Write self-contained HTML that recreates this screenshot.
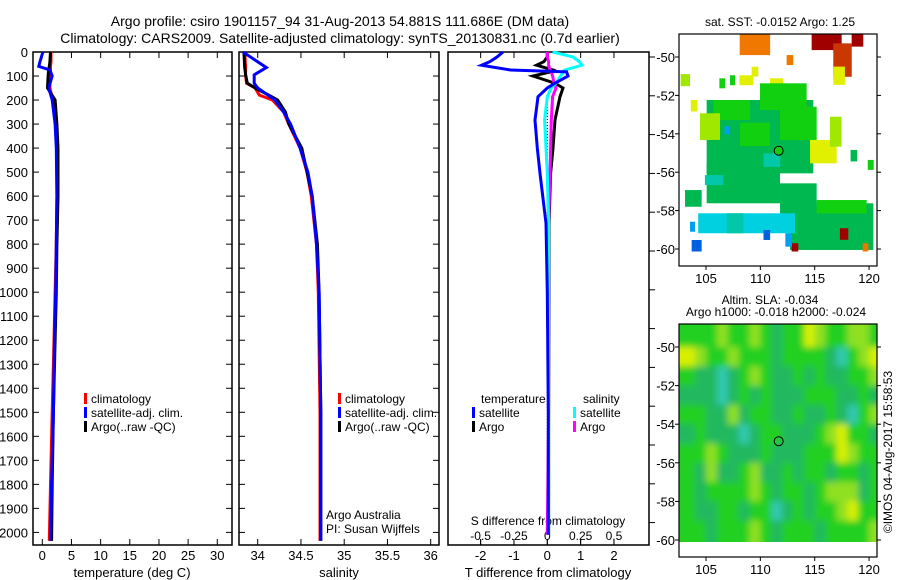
<!DOCTYPE html>
<html><head><meta charset="utf-8">
<style>
body{margin:0;background:#fff;}
svg{display:block;font-family:"Liberation Sans",sans-serif;}
text{font-size:13px;fill:#000;}
</style></head>
<body>
<svg id="c" width="900" height="580" viewBox="0 0 900 580">
<defs><filter id="blur" x="-5%" y="-5%" width="110%" height="110%"><feGaussianBlur stdDeviation="3.5"/></filter></defs>
<text x="340" y="26" text-anchor="middle" style="font-size:14px">Argo profile: csiro 1901157_94 31-Aug-2013 54.881S 111.686E (DM data)</text>
<text x="340" y="43" text-anchor="middle" style="font-size:14px">Climatology: CARS2009. Satellite-adjusted climatology: synTS_20130831.nc (0.7d earlier)</text>
</svg>
<script>
// ---------- data ----------
const depthTicks=[0,100,200,300,400,500,600,700,800,900,1000,1100,1200,1300,1400,1500,1600,1700,1800,1900,2000];
const tTicks=[0,5,10,15,20,25,30];
const sTicks=[34,34.5,35,35.5,36];
const dTTicks=[-2,-1,0,1,2];
const dSTicks=[-0.5,-0.25,0,0.25,0.5];
const dSTickLabels=["-0.5","-0.25","0","0.25","0.5"];
const latTicks=[-50,-52,-54,-56,-58,-60];
const lonTicks=[105,110,115,120];

const tDepth=[0,40,60,75,100,150,200,300,400,600,800,1000,1200,1500,1800,2035];
const tClim=[1.5,1.5,1.4,1.4,1.3,1.3,1.8,2.3,2.5,2.5,2.4,2.2,2.0,1.7,1.4,1.2];
const tSat=[0.1,-0.4,-0.6,1.3,1.7,1.1,1.7,2.2,2.4,2.5,2.4,2.3,2.1,1.9,1.6,1.4];
const tArgo=[1.4,1.3,1.2,1.1,1.0,0.9,2.2,2.5,2.7,2.7,2.5,2.4,2.2,1.9,1.7,1.6];

const sDepth=[0,65,95,130,150,180,200,250,300,400,500,600,800,1000,1500,2035];
const sClim=[33.85,33.86,33.86,33.87,33.97,34.02,34.17,34.30,34.36,34.49,34.57,34.62,34.68,34.70,34.72,34.72];
const sSat=[33.83,34.1,33.96,33.96,34.0,34.12,34.2,34.30,34.38,34.49,34.58,34.63,34.68,34.71,34.73,34.73];
const sArgo=[33.84,33.85,33.86,33.88,33.97,34.13,34.23,34.32,34.36,34.51,34.57,34.63,34.69,34.71,34.73,34.73];

const dDepth=[0,20,40,55,75,83,100,130,150,186,283,400,505,713,1000,1500,2010];
const dTSat=[-1.33,-1.5,-1.72,-1.97,-1.1,0.58,0.62,0.23,0.0,-0.28,-0.37,-0.3,-0.22,-0.04,0.0,0.03,0.03];
const dTArgo=[0,0,-0.1,-0.32,0.17,0.1,-0.43,0.23,0.47,0.38,0.23,0.17,0.1,0.05,0.05,0.04,0.04];
const dSSat=[0.04,0.19,0.24,0.26,0.13,0.12,0.1,0.065,0.03,0,-0.02,-0.01,0.0,0.01,0.01,0.01,0.01];
const dSArgo=[0,0,0.01,0.01,0.02,0.03,0.04,0.05,0.065,0.04,0.03,0.025,0.02,0.01,0.01,0.01,0.0];

// SST patches: lon0, lat0(top), lon width, lat height, colour index
const sstLon=[105.06,105.06,103.07,112.73,111.81,108.1,114.72,116.71,118.4,112.42,109.2,116.71,102.67,106.23,107.21,108.07,110.89,105.68,109.97,111.81,108.13,104.45,114.57,116.4,104.9,104.28,106.9,115.18,103.53,103.68,110.29,117.32,112.88,119.41,112.3,119.88,118.3,103.6,106.7,110.3];
const sstLat=[-52.24,-55.54,-56.93,-57.62,-56.58,-48.8,-48.8,-49.29,-48.8,-49.9,-50.5,-50.5,-50.89,-51.11,-50.95,-50.95,-51.11,-52.24,-51.37,-52.59,-53.42,-52.93,-54.32,-53.11,-56.15,-58.14,-58.14,-57.45,-58.58,-59.53,-59.01,-58.92,-59.7,-59.7,-59.18,-55.36,-54.84,-52.24,-53.6,-55.02];
const sstW=[9.81,6.75,1.53,7.67,3.37,2.8,2.76,1.7,1.07,0.61,0.61,1.07,0.86,0.52,0.46,1.29,1.23,3.37,4.29,3.37,2.76,1.84,2.45,1.07,1.69,8.9,1.53,4.6,0.46,0.92,0.61,0.77,0.61,0.52,0.61,0.55,0.61,0.61,0.46,1.53];
const sstH=[3.82,2.08,0.87,2.43,1.74,1.1,0.84,1.74,0.66,0.52,0.52,0.95,0.63,0.52,0.52,0.52,0.6,1.04,1.39,1.74,1.22,1.39,1.22,1.56,0.52,1.04,1.04,0.7,0.52,0.6,0.52,0.6,0.43,0.43,0.7,0.52,0.6,0.6,0.43,0.7];
const sstC=[4,4,4,4,4,8,10,9,10,8,7,7,6,5,5,7,7,5,5,5,5,6,7,6,3,2,3,5,1,0,0,10,10,8,1,5,4,7,1,3];

// SLA field 1-degree cells, lat -49 .. -59 rows, lon 103 .. 120 cols
const slaRows=[
[2,2,2,3,2,2,3,2,1,2,2,4,3,2,2,3,3,2],
[4,3,2,2,3,2,2,2,1,2,2,2,2,1,0,2,3,4],
[2,1,1,0,1,2,3,2,1,1,2,1,2,1,1,2,2,3],
[1,1,1,0,1,2,1,2,1,1,1,2,2,2,1,1,2,1],
[2,2,1,1,3,1,2,2,1,1,2,1,1,2,1,0,2,3],
[1,2,1,1,1,0,1,2,2,1,1,1,2,3,4,2,2,1],
[2,2,3,2,1,1,1,2,1,1,1,2,2,2,4,3,2,2],
[2,1,3,1,1,2,3,1,1,2,1,2,2,1,2,2,1,2],
[2,1,2,2,2,2,3,2,1,2,2,1,2,3,3,3,1,2],
[2,1,1,2,2,1,2,2,0,1,2,1,2,2,3,4,2,2],
[2,2,1,2,2,2,3,2,1,2,2,2,1,2,2,2,2,3]];

// ---------- drawing ----------
const NS='http://www.w3.org/2000/svg';
const svg=document.getElementById('c');
function mk(tag,attrs,parent){const e=document.createElementNS(NS,tag);for(const k in attrs)e.setAttribute(k,attrs[k]);(parent||svg).appendChild(e);return e;}
function txt(x,y,s,anchor,parent,size){const t=mk('text',{x:x,y:y,'text-anchor':anchor||'start'},parent);if(size)t.style.fontSize=size+'px';t.textContent=s;return t;}

const yTop=52,yBot=545;
const yD=d=>52+d*0.2402;
const xT=v=>42.3+v*5.833;
const xS=v=>257.7+(v-34)*86.5;
const xDT=v=>547.3+v*33.33;
const xDS=v=>547.3+v*133.3;

function frame(x0,x1,name){
  const r=mk('rect',{x:x0,y:yTop,width:x1-x0,height:yBot-yTop,fill:'none',stroke:'#000','stroke-width':1.5});
  
  
  depthTicks.forEach(d=>{
    const y=yD(d);
    mk('line',{x1:x0,x2:x0+6,y1:y,y2:y,stroke:'#000'});
    mk('line',{x1:x1-6,x2:x1,y1:y,y2:y,stroke:'#000'});
  });
}
function line(xs,ds,fx,color,name,w){
  const pts=xs.map((v,i)=>fx(v).toFixed(1)+','+yD(ds[i]).toFixed(1)).join(' ');
  const p=mk('polyline',{points:pts,fill:'none',stroke:color,'stroke-width':w||3,'stroke-linejoin':'miter'});
  
  
}
function legend(x,y,color,label,name){
  const g=mk('g',{});
  
  
  mk('rect',{x:x,y:y-10,width:3,height:11,fill:color},g);
  txt(x+7,y,label,'start',g,12);
}

// Panel 1
frame(33,232,'temperature-axes');
depthTicks.forEach(d=>{const t=txt(28,yD(d)+5,String(d),'end');});
tTicks.forEach(v=>{const x=xT(v);mk('line',{x1:x,x2:x,y1:yTop,y2:yTop+6,stroke:'#000'});mk('line',{x1:x,x2:x,y1:yBot-6,y2:yBot,stroke:'#000'});txt(x,560,String(v),'middle');});
txt(132,577,'temperature (deg C)','middle');
line(tClim,tDepth,xT,'#ff0000','temp-climatology-line');
line(tArgo,tDepth,xT,'#000000','temp-argo-line');
line(tSat,tDepth,xT,'#0000ff','temp-satellite-line');
legend(84,403,'#ff0000','climatology','legend-climatology');
legend(84,417,'#0000ff','satellite-adj. clim.','legend-satellite');
legend(84,431,'#000000','Argo(..raw -QC)','legend-argo');

// Panel 2
frame(239,439,'salinity-axes');
sTicks.forEach(v=>{const x=xS(v);mk('line',{x1:x,x2:x,y1:yTop,y2:yTop+6,stroke:'#000'});mk('line',{x1:x,x2:x,y1:yBot-6,y2:yBot,stroke:'#000'});txt(x,560,String(v),'middle');});
txt(339,577,'salinity','middle');
line(sClim,sDepth,xS,'#ff0000','sal-climatology-line');
line(sArgo,sDepth,xS,'#000000','sal-argo-line');
line(sSat,sDepth,xS,'#0000ff','sal-satellite-line');
legend(338,403,'#ff0000','climatology','legend-climatology-2');
legend(338,417,'#0000ff','satellite-adj. clim.','legend-satellite-2');
legend(338,431,'#000000','Argo(..raw -QC)','legend-argo-2');
txt(326,519,'Argo Australia','start',null,12);
txt(326,533,'PI: Susan Wijffels','start',null,12);

// Panel 3
const r3=mk('rect',{x:448,y:yTop,width:201,height:yBot-yTop,fill:'none',stroke:'#000','stroke-width':1.5});

for(let y=57;y<=545;y+=38.8){mk('line',{x1:649,x2:655,y1:y,y2:y,stroke:'#000'});}
dTTicks.forEach(v=>{const x=xDT(v);mk('line',{x1:x,x2:x,y1:yTop,y2:yTop+6,stroke:'#000'});mk('line',{x1:x,x2:x,y1:yBot-6,y2:yBot,stroke:'#000'});txt(x,560,String(v),'middle');});
dSTicks.forEach((v,i)=>{const x=xDS(v);mk('line',{x1:x,x2:x,y1:539,y2:545,stroke:'#000'});txt(x,540,dSTickLabels[i],'middle',null,12);});
txt(548,525,'S difference from climatology','middle',null,12);
txt(548,577,'T difference from climatology','middle');
mk('line',{x1:547.3,x2:547.3,y1:95,y2:535,stroke:'#000','stroke-dasharray':'1,2'});
line(dTArgo,dDepth,xDT,'#000000','dT-argo-line');
line(dSArgo,dDepth,xDS,'#ff00ff','dS-argo-line');
line(dSSat,dDepth,xDS,'#00ffff','dS-satellite-line');
line(dTSat,dDepth,xDT,'#0000ff','dT-satellite-line');
txt(481,403,'temperature','start',null,12);
txt(583,403,'salinity','start',null,12);
legend(472,417,'#0000ff','satellite','legend-dT-satellite');
legend(472,431,'#000000','Argo','legend-dT-argo');
legend(573,417,'#00ffff','satellite','legend-dS-satellite');
legend(573,431,'#ff00ff','Argo','legend-dS-argo');

// Maps
const sstPal=['#0060e0','#00a0f0','#00d0e0','#00c8a8','#00b850','#10d010','#a0e800','#e0f000','#f07800','#c83800','#a00000'];
const slaPal=['#30c8b0','#20b860','#20d020','#90e020','#d8f000'];
function mapAxes(x0,y0,w,h,lat50,lat60,name){
  const r=mk('rect',{x:x0,y:y0,width:w,height:h,fill:'none',stroke:'#000','stroke-width':1.2});
  
  latTicks.forEach(l=>{const y=lat50+(l+50)/-10*(lat60-lat50);
    mk('line',{x1:x0-4,x2:x0,y1:y,y2:y,stroke:'#000'});mk('line',{x1:x0+w,x2:x0+w+4,y1:y,y2:y,stroke:'#000'});
    txt(x0-4,y+5,String(l),'end');});
  lonTicks.forEach(l=>{const x=706+(l-105)*10.87;mk('line',{x1:x,x2:x,y1:y0+h,y2:y0+h+4,stroke:'#000'});txt(x,y0+h+17,String(l),'middle');});
}
const mxL=lon=>706+(lon-105)*10.87;
// map1
const m1=mk('g',{});
const m1y=lat=>57+(-50-lat)*19.2;
const cp1=mk('clipPath',{id:'cl1'});mk('rect',{x:679,y:34,width:198,height:232},cp1);
const m1g=mk('g',{'clip-path':'url(#cl1)'},m1);
sstLon.forEach((lon,i)=>{const c=mk('rect',{x:mxL(lon),y:m1y(sstLat[i]),width:sstW[i]*10.87,height:sstH[i]*19.2,fill:sstPal[sstC[i]]},m1g);
  
  });
mk('circle',{cx:mxL(111.686),cy:m1y(-54.881),r:4.5,fill:'#10d010',stroke:'#000'},m1);
mapAxes(679,34,198,232,57,249,'sst-map-axes');
txt(780,26,'sat. SST: -0.0152 Argo: 1.25','middle',null,12);
// map2
const m2=mk('g',{});
const m2y=lat=>347+(-50-lat)*19.3;
const cp2=mk('clipPath',{id:'cl2'});mk('rect',{x:679,y:324,width:198,height:218},cp2);
const m2c=mk('g',{'clip-path':'url(#cl2)'},m2);
const m2g=mk('g',{filter:'url(#blur)'},m2c);
slaRows.forEach((row,j)=>row.forEach((v,i)=>{
  const yy=j===0?m2y(-49-j)-20:m2y(-49-j);
  const hh=(j===0||j===slaRows.length-1)?40:20.3;
  const c=mk('rect',{x:mxL(103+i)-(i===0?12:0),y:yy,width:11.4+(i===0?12:0)+(i===row.length-1?12:0),height:hh,fill:slaPal[v]},m2g);
  
  }));
mk('circle',{cx:mxL(111.686),cy:m2y(-54.881),r:4.5,fill:'none',stroke:'#000'},m2);
mapAxes(679,324,198,233,347,540,'sla-map-axes');
txt(770,304,'Altim. SLA: -0.034','middle',null,12);
txt(776,316,'Argo h1000: -0.018 h2000: -0.024','middle',null,12);
const st=txt(0,0,'©IMOS 04-Aug-2017 15:58:53','middle',null,12);
st.setAttribute('transform','translate(892,452) rotate(-90)');


</script>
</body></html>
